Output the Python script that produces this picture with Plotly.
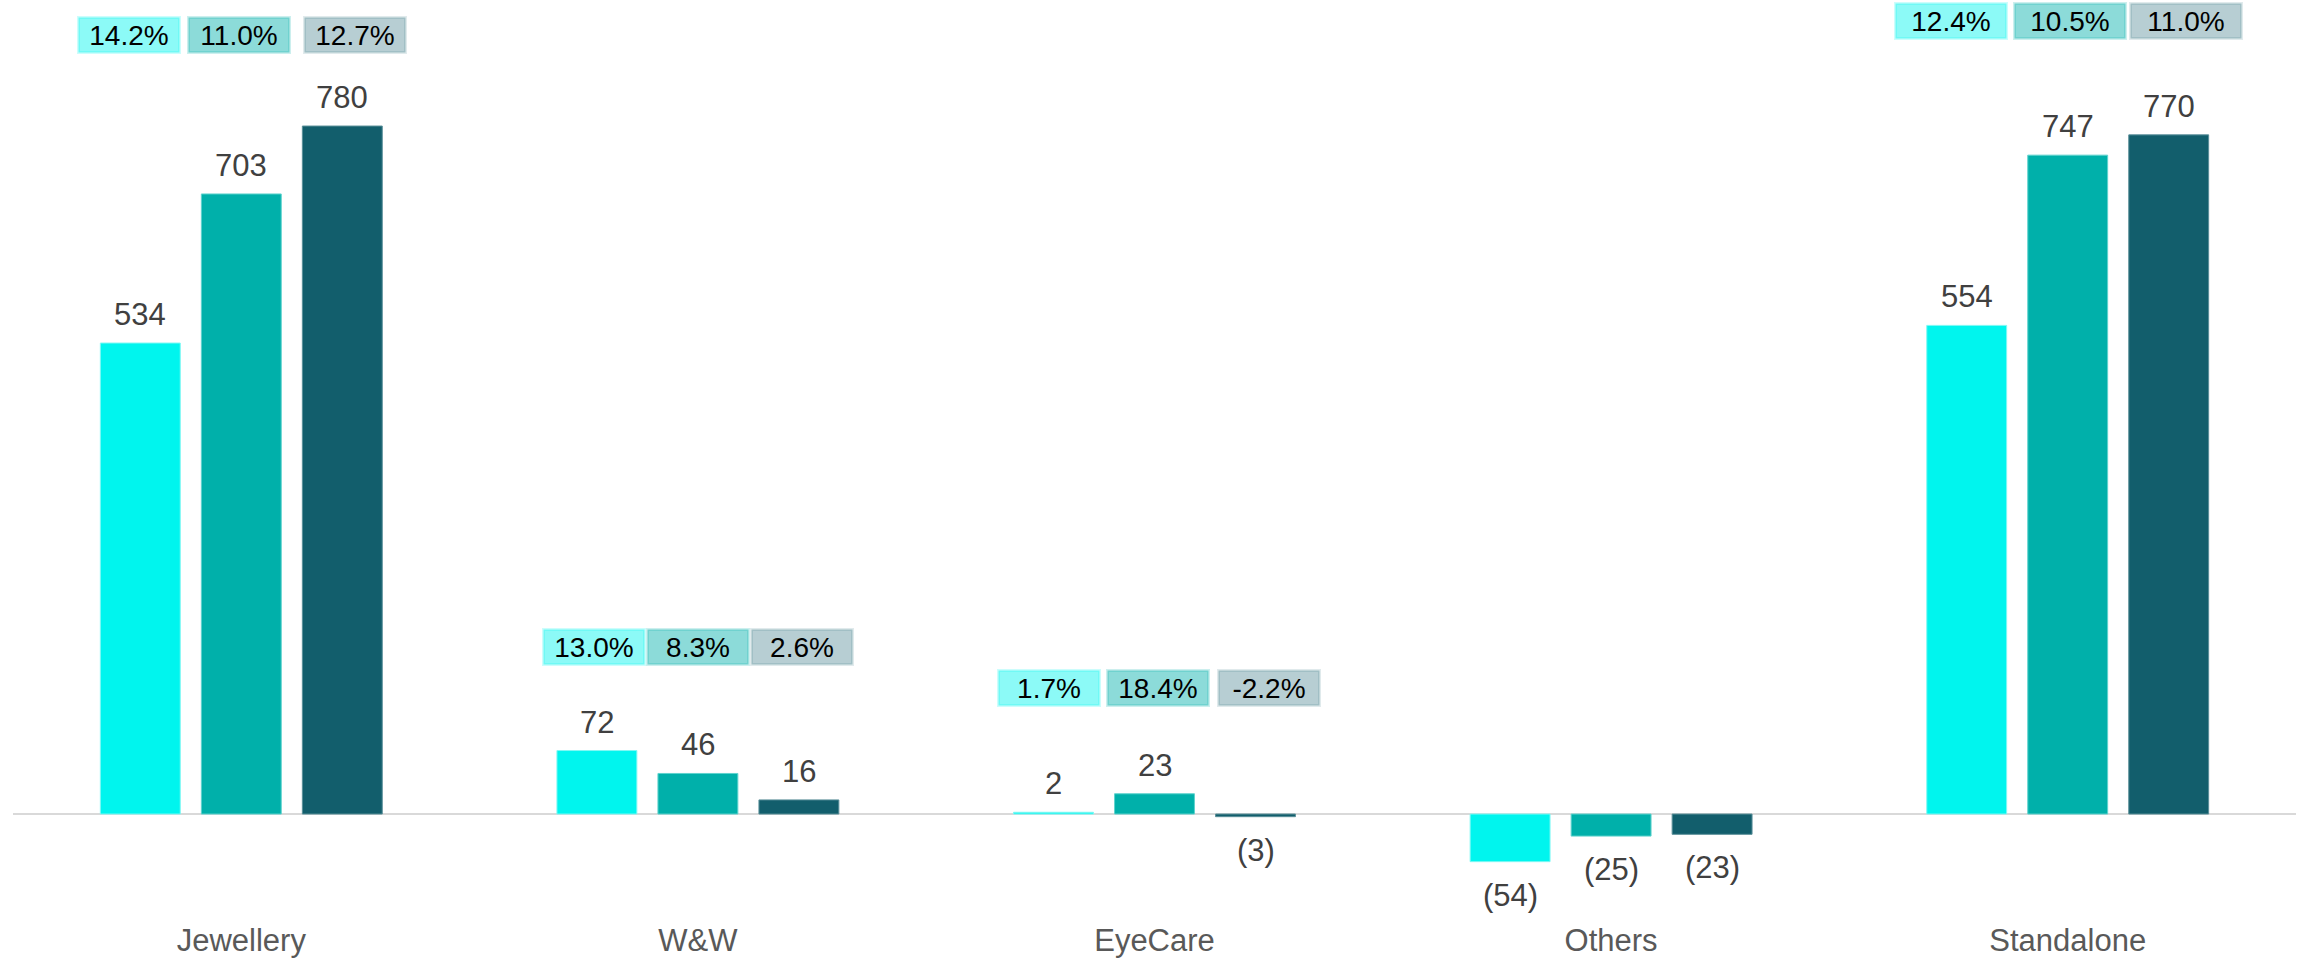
import plotly.graph_objects as go

categories = ["Jewellery", "W&W", "EyeCare", "Others", "Standalone"]
series_a = [534, 72, 2, -54, 554]
series_b = [703, 46, 23, -25, 747]
series_c = [780, 16, -3, -23, 770]
growth_a = ["14.2%", "13.0%", "1.7%", None, "12.4%"]
growth_b = ["11.0%", "8.3%", "18.4%", None, "10.5%"]
growth_c = ["12.7%", "2.6%", "-2.2%", None, "11.0%"]

series = [series_a, series_b, series_c]
growth = [growth_a, growth_b, growth_c]
bar_colors = ["#00F5EE", "#00B0AA", "#125E6C"]
edge_colors = ["#7FF8F4", "#5FD3CE", "#5A8F99"]
box_colors = ["rgba(0,245,238,0.45)", "rgba(0,176,170,0.45)", "rgba(18,94,108,0.30)"]
box_edges = ["rgba(0,245,238,0.20)", "rgba(0,176,170,0.20)", "rgba(18,94,108,0.13)"]

FONT = "Arial, Liberation Sans, sans-serif"
bar_w = 0.175
step = 0.2212
xs = list(range(len(categories)))

fig = go.Figure()
for k, vals in enumerate(series):
    fig.add_trace(go.Bar(
        x=xs, y=vals, width=bar_w, offset=(k - 1) * step - bar_w / 2,
        marker=dict(color=bar_colors[k], line=dict(color=edge_colors[k], width=1)),
        showlegend=False, hoverinfo="skip",
    ))

annotations = []
for k, vals in enumerate(series):
    for i, v in enumerate(vals):
        txt = f"({abs(v)})" if v < 0 else f"{v}"
        annotations.append(dict(
            x=i + (k - 1) * step, y=v, xref="x", yref="y", text=txt, showarrow=False,
            yanchor="bottom" if v >= 0 else "top", yshift=9 if v >= 0 else -14,
            font=dict(family=FONT, size=31, color="#404040"),
        ))

# layout of the growth-rate boxes (pixel offsets from each group's centre / tallest bar)
pct_yshift = [91, 104, 106, 0, 114]
pct_xshift = [[-112, -2, 114], [-104, 0, 104], [-106, 3, 114], [0, 0, 0], [-117, 2, 118]]
pct_width = [96, 96, 96, 96, 106]
for i in xs:
    top = max(s[i] for s in series)
    for k in range(3):
        g = growth[k][i]
        if g is None:
            continue
        annotations.append(dict(
            x=i, y=max(top, 0), xref="x", yref="y", text=g, showarrow=False,
            xshift=pct_xshift[i][k], yshift=pct_yshift[i], yanchor="middle",
            width=pct_width[i], height=30, borderpad=1,
            bgcolor=box_colors[k], bordercolor=box_edges[k], borderwidth=3,
            font=dict(family=FONT, size=28, color="#000000"),
        ))

fig.update_layout(
    width=2303, height=959,
    margin=dict(l=13, r=7, t=0, b=40, autoexpand=False),
    paper_bgcolor="white", plot_bgcolor="white",
    barmode="overlay",
    annotations=annotations,
    xaxis=dict(
        tickmode="array", tickvals=xs, ticktext=categories, range=[-0.5, 4.5],
        showgrid=False, zeroline=False, showline=False, ticks="", automargin=False,
        tickfont=dict(family=FONT, size=31, color="#595959"),
    ),
    yaxis=dict(
        range=[-119.0, 922.9], showgrid=False, showticklabels=False, automargin=False,
        zeroline=True, zerolinecolor="#D9D9D9", zerolinewidth=2, showline=False,
    ),
)

fig.write_html(
    "out.html",
    config={"displayModeBar": False},
    post_script="document.body.style.margin='0';document.body.style.padding='0';"
                "document.body.style.overflow='hidden';",
)
